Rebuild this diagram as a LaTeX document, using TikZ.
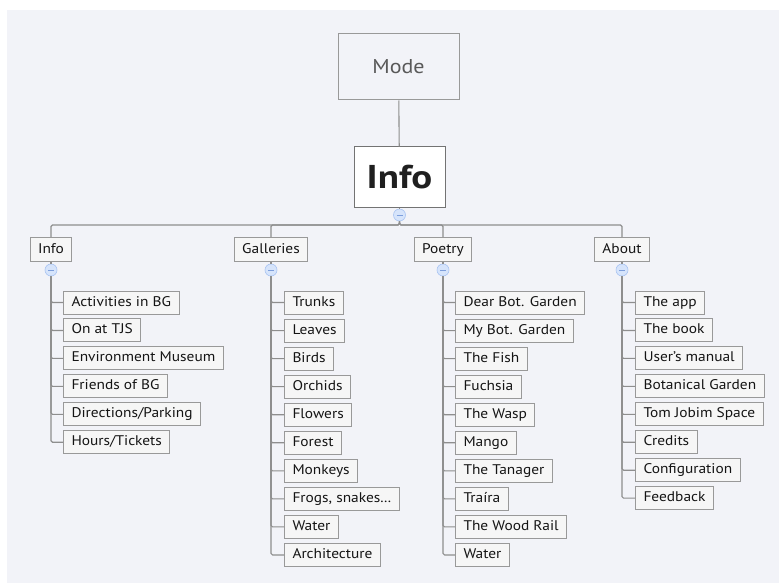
\documentclass[tikz,border=0pt]{standalone}
\usepackage{fontspec}
\setmainfont{PT Sans}[FakeStretch=1.1]
\newfontfamily\rootfont{PT Sans}[FakeStretch=1.18]
\definecolor{canvas}{HTML}{F2F3F8}
\definecolor{linkgray}{HTML}{8E8E8E}
\definecolor{boxedge}{HTML}{999999}
\definecolor{boxfill}{HTML}{F6F6F6}
\definecolor{togglefill}{HTML}{D6E4FB}
\definecolor{toggleedge}{HTML}{A9C4F2}
\definecolor{toggleminus}{HTML}{7E9FDC}
\newcommand{\threedots}{.\kern0.5pt.\kern0.5pt.}
\begin{document}
\begin{tikzpicture}[x=1pt,y=-1pt,
  link/.style={draw=linkgray, line width=1.1pt, rounded corners=1.5pt},
  modebox/.style={draw=boxedge, line width=1pt, fill=canvas, minimum width=121pt,
    minimum height=66pt, font=\fontsize{20}{22}\selectfont, text=black!65},
  rootbox/.style={draw=black!55, line width=1pt, fill=white, minimum width=91pt,
    minimum height=60pt, font=\rootfont\fontsize{33}{36}\selectfont\bfseries, text=black!88},
  catbox/.style={draw=boxedge, line width=1pt, fill=boxfill, minimum height=24pt,
    inner xsep=8pt, inner ysep=0pt, text height=10pt, text depth=3pt,
    font=\fontsize{14}{16}\selectfont, text=black!92},
  leafbox/.style={draw=boxedge, line width=1pt, fill=boxfill, minimum height=23pt,
    inner xsep=8pt, inner ysep=0pt, text height=10pt, text depth=3pt, anchor=west,
    font=\fontsize{14}{16}\selectfont, text=black!92},
  toggle/.style={circle, draw=toggleedge, fill=togglefill, line width=0.6pt,
    minimum size=12pt, inner sep=0pt,
    path picture={\draw[toggleminus, line width=0.8pt]
      ([xshift=-3pt]path picture bounding box.center) -- ([xshift=3pt]path picture bounding box.center);}}
]
\useasboundingbox (0,0) rectangle (779,583);
\fill[white] (0,0) rectangle (779,583);
\fill[canvas] (7,10) rectangle (779,583);

% top of the map
\node[modebox] (mode) at (398.5,67) {Mode};
\node[rootbox] (root) at (399.5,177) {Info};
\draw[link] (mode) -- (root);
\node[toggle] (t0) at (399.5,215) {};
\draw[link] (root.south) -- (t0.north);

% main branches
\node[catbox, anchor=north] (cinfo) at (51,237) {Info};
\node[catbox, anchor=north] (cgal)  at (271,237) {Galleries};
\node[catbox, anchor=north] (cpoe)  at (443,237) {Poetry};
\node[catbox, anchor=north] (cabo)  at (622,237) {About};
\coordinate (bus) at (399.5,225);
\foreach \c in {cinfo,cgal,cpoe,cabo}
  \draw[link] (t0.south) -- (bus) -| (\c.north);

% collapse toggles under each branch
\foreach \c/\t/\x in {cinfo/tinfo/51, cgal/tgal/271, cpoe/tpoe/443, cabo/tabo/622} {
  \node[toggle] (\t) at (\x,270) {};
  \draw[link] (\c.south) -- (\t.north);
}

% leaves of the Info branch
\foreach \txt [count=\i] in {Activities in BG, On at TJS, Environment Museum,
    Friends of BG, Directions/Parking, Hours/Tickets} {
  \node[leafbox] (info\i) at (63,{302.5+27.95*(\i-1)}) {\txt};
  \draw[link] (tinfo.south) |- (info\i.west);
}

% leaves of the Galleries branch
\foreach \txt [count=\i] in {Trunks, Leaves, Birds, Orchids, Flowers, Forest,
    Monkeys, {Frogs, snakes\threedots}, Water, Architecture} {
  \node[leafbox] (gal\i) at (284,{302.5+28.05*(\i-1)}) {\txt};
  \draw[link] (tgal.south) |- (gal\i.west);
}

% leaves of the Poetry branch
\foreach \txt [count=\i] in {Dear Bot. Garden, My Bot. Garden, The Fish, Fuchsia,
    The Wasp, Mango, The Tanager, Traíra, The Wood Rail, Water} {
  \node[leafbox] (poe\i) at (455,{302.5+28.05*(\i-1)}) {\txt};
  \draw[link] (tpoe.south) |- (poe\i.west);
}

% leaves of the About branch
\foreach \txt [count=\i] in {The app, The book, User's manual, Botanical Garden,
    Tom Jobim Space, Credits, Configuration, Feedback} {
  \node[leafbox] (abo\i) at (635,{302.5+27.95*(\i-1)}) {\txt};
  \draw[link] (tabo.south) |- (abo\i.west);
}
\end{tikzpicture}
\end{document}
